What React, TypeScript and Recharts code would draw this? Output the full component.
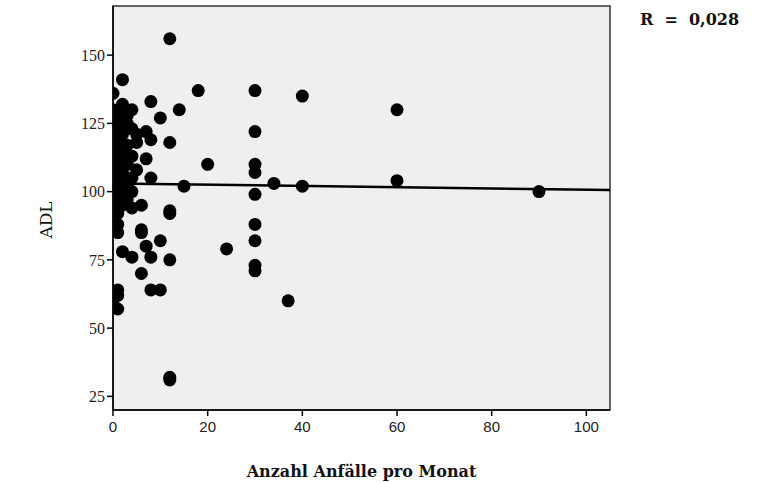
import * as React from 'react';
import {ScatterChart, Scatter, XAxis, YAxis, ReferenceArea, ReferenceLine, Label} from "recharts";

// Anzahl Anfälle pro Monat
const anfaelle = [
    12, 2, 0, 8, 18, 30, 40, 14, 60, 10, 12, 8, 7, 7, 8, 15, 20, 30, 30, 30,
    34, 40, 30, 60, 90, 30, 30, 24, 30, 30, 37, 12, 12, 6, 6, 10, 7, 8, 12, 2,
    4, 6, 8, 10, 6, 4, 12, 12, 1, 1, 1, 1, 1, 0, 1,
    0, 1, 2, 3, 1, 3, 4, 0, 2, 5, 1, 3, 0, 2, 4, 1, 3, 5, 0, 2,
    4, 1, 0, 2, 3, 1, 4, 0, 2, 3, 4, 5, 2
];

// ADL
const adl = [
    156, 141, 136, 133, 137, 137, 135, 130, 130, 127, 118, 119, 122, 112, 105, 102, 110, 122, 110, 107,
    103, 102, 99, 104, 100, 88, 82, 79, 73, 71, 60, 92, 93, 86, 85, 82, 80, 76, 75, 78,
    76, 70, 64, 64, 95, 94, 31, 32, 92, 88, 85, 64, 62, 60, 57,
    130, 128, 129, 128, 125, 125, 123, 122, 121, 121, 118, 117, 115, 114, 113, 111, 110, 108, 108, 107,
    105, 104, 101, 101, 103, 98, 100, 96, 95, 97, 130, 118, 132
];

const xTicks = [0, 20, 40, 60, 80, 100];
const yTicks = [25, 50, 75, 100, 125, 150];
const fitStart = {x: 0, y: 103};
const fitEnd = {x: 105, y: 100.6};
const rText = 'R = 0,028';

const data = anfaelle.map((x, i) => ({x: x, y: adl[i]}));

const Dot = (props: any) => <circle cx={props.cx} cy={props.cy} r={6.5} fill="#000"/>;

export default function App() {
    return (
        <div style={{position: 'absolute', left: 0, top: 0, width: 766, height: 483, background: '#fff'}}>
            <ScatterChart width={766} height={483} margin={{top: 6, right: 156, bottom: 0, left: 0}}>
                <ReferenceArea x1={0} x2={105} y1={20} y2={168} fill="#efefef" fillOpacity={1} stroke="#333" strokeWidth={1.5}/>
                <XAxis type="number" dataKey="x" domain={[0, 105]} ticks={xTicks} allowDataOverflow
                       height={73} tickSize={6} stroke="#000" strokeWidth={1.5}
                       tick={{fill: '#222', fontSize: 15, fontFamily: 'Liberation Sans', dy: 3}}>
                    <Label value="Anzahl Anfälle pro Monat" position="insideBottom" offset={6}
                           style={{fontFamily: 'DejaVu Serif', fontWeight: 'bold', fontSize: 16, fill: '#111'}}/>
                </XAxis>
                <YAxis type="number" dataKey="y" domain={[20, 168]} ticks={yTicks} allowDataOverflow
                       width={113} tickSize={6} stroke="#000" strokeWidth={1.5}
                       tick={{fill: '#222', fontSize: 16, fontFamily: 'Liberation Serif'}}>
                    <Label content={(props: any) => {
                        const vb = props.viewBox;
                        const cy = vb.y + vb.height / 2 + 12;
                        return <text x={46} y={cy} textAnchor="middle" dominantBaseline="central"
                                     transform={`rotate(-90, 46, ${cy})`}
                                     style={{fontFamily: 'DejaVu Serif', fontSize: 17, fill: '#111'}}>ADL</text>;
                    }}/>
                </YAxis>
                <Scatter data={data} shape={Dot} isAnimationActive={false}/>
                <ReferenceLine segment={[fitStart, fitEnd]} stroke="#000" strokeWidth={2.5}/>
            </ScatterChart>
            <div style={{position: 'absolute', left: 640, top: 10, fontFamily: 'DejaVu Serif', fontWeight: 'bold', fontSize: 16, color: '#111', whiteSpace: 'pre'}}>
                {rText.replace(' = ', '  =  ')}
            </div>
        </div>
    );
}
